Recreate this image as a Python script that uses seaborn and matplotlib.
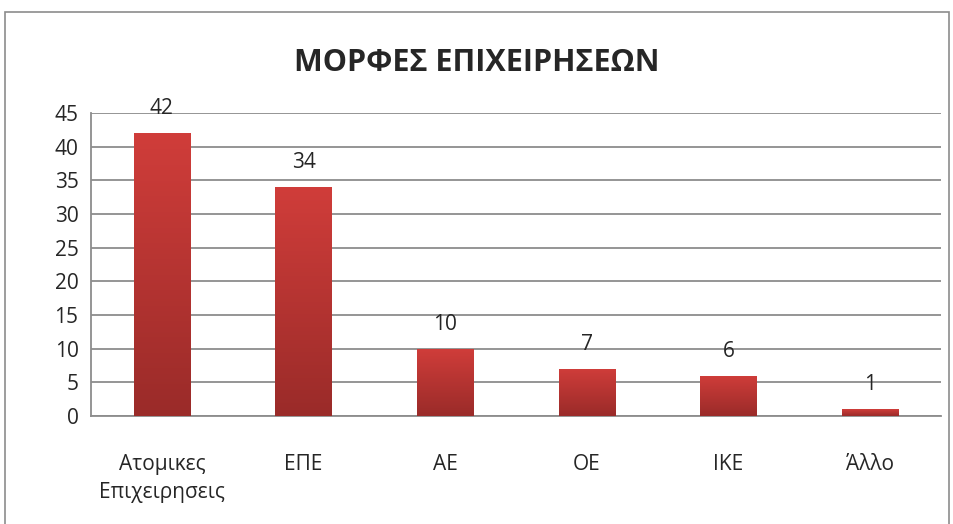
import numpy as np
import pandas as pd
import matplotlib
matplotlib.use("Agg")
import matplotlib.pyplot as plt
import matplotlib.patches as mpatches
from matplotlib.colors import LinearSegmentedColormap
from matplotlib.ticker import FixedLocator
import seaborn as sns

categories = ["Ατομικες\nΕπιχειρησεις", "ΕΠΕ", "ΑΕ", "ΟΕ", "ΙΚΕ", "Άλλο"]
counts = [42, 34, 10, 7, 6, 1]
yticks = [0, 5, 10, 15, 20, 25, 30, 35, 40, 45]

sns.set_style("white")
plt.rcParams["font.family"] = ["Open Sans", "DejaVu Sans"]

df = pd.DataFrame({"category": categories, "count": counts})

fig = plt.figure(figsize=(9.54, 5.24), dpi=100)
ax = fig.add_axes([0.0954, 0.2061, 0.891, 0.5783])

sns.barplot(data=df, x="category", y="count", color="#c0392b", width=0.4, ax=ax)

# gradient fill clipped to each bar
grad = LinearSegmentedColormap.from_list("bar", ["#9a2b29", "#d03d3a"])
gimg = np.linspace(0, 1, 256).reshape(-1, 1)
for p in ax.patches:
    x0, y0 = p.get_x(), p.get_y()
    w, h = p.get_width(), p.get_height()
    p.set_facecolor("none")
    p.set_edgecolor("none")
    im = ax.imshow(gimg, cmap=grad, aspect="auto", origin="lower",
                   extent=[x0, x0 + w, y0, y0 + h], zorder=3)
    im.set_clip_path(p)

ax.set_xlim(-0.5, len(categories) - 0.5)
ax.set_ylim(0, 45)
ax.set_yticks(yticks)
ax.yaxis.grid(True, color="#8c8c8c", linewidth=1.3)
ax.set_axisbelow(True)

for i, v in enumerate(counts):
    ax.annotate(str(v), (i, v), xytext=(0, 10), textcoords="offset points",
                ha="center", va="bottom", fontsize=15)

ax.set_xlabel("")
ax.set_ylabel("")
ax.tick_params(axis="x", which="major", length=0, pad=27, labelsize=15)
ax.xaxis.set_minor_locator(FixedLocator(np.arange(-0.5, len(categories), 1.0)))
ax.tick_params(axis="x", which="minor", length=7, width=1.3, color="#8c8c8c", direction="out")
ax.tick_params(axis="y", length=6, width=1.3, color="#8c8c8c", labelsize=15, pad=3)
for lab in ax.get_xticklabels():
    lab.set_linespacing(1.45)

for s in ["top", "right"]:
    ax.spines[s].set_visible(False)
for s in ["left", "bottom"]:
    ax.spines[s].set_color("#8c8c8c")
    ax.spines[s].set_linewidth(1.3)

fig.text(0.5, 0.88, "ΜΟΡΦΕΣ ΕΠΙΧΕΙΡΗΣΕΩΝ", ha="center", va="center",
         fontsize=22, fontweight="bold")

fig.patches.append(mpatches.Rectangle((0.005, -0.01), 0.99, 0.987,
                                      transform=fig.transFigure, fill=False,
                                      edgecolor="#8c8c8c", linewidth=1.2))

fig.savefig("out.png", dpi=100)
